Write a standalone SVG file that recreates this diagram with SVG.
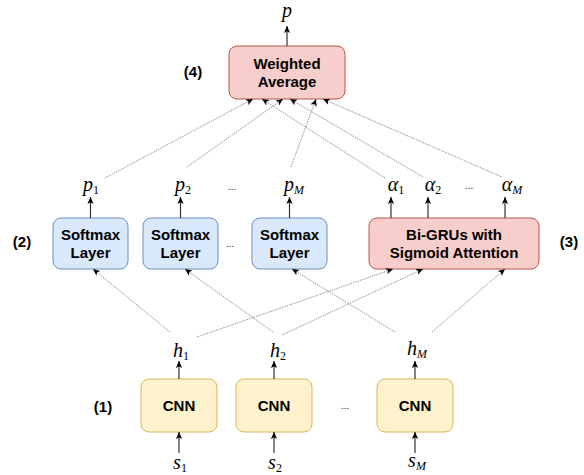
<svg xmlns="http://www.w3.org/2000/svg" width="584" height="475" viewBox="0 0 584 475">
<style>
.box text, .lbl { font-family: "Liberation Sans", Arial, sans-serif; font-weight: bold; font-size: 15px; fill: #000; text-anchor: middle; }
.red { fill: #f8cecc; stroke: #b85450; stroke-width: 1; }
.blue { fill: #dae8fc; stroke: #6c8ebf; stroke-width: 1; }
.yel { fill: #fff2cc; stroke: #d6b656; stroke-width: 1; }
.m { font-family: "Liberation Serif", "Times New Roman", serif; font-style: italic; font-size: 20px; fill: #000; text-anchor: middle; }
.sub { font-style: normal; font-size: 12px; }
.subi { font-style: italic; font-size: 12px; }
.dots { font-family: "Liberation Serif", serif; font-size: 11px; fill: #333; text-anchor: middle; }
.solid { stroke: #333; stroke-width: 1.2; fill: none; }
.dotted { stroke: #777; stroke-width: 0.8; stroke-dasharray: 1.5 1; fill: none; }
</style>
<defs>
<marker id="arr" viewBox="0 0 10 10" refX="10" refY="5" markerWidth="7" markerHeight="7" markerUnits="userSpaceOnUse" orient="auto">
<path d="M0,0.5 L10,5 L0,9.5 L2.5,5 z" fill="#000"/>
</marker>
</defs>

<g id="wavg" class="box">
<rect class="red" x="229" y="46" width="116" height="53" rx="8"/>
<text x="287" y="68.5">Weighted</text>
<text x="287" y="86.5">Average</text>
</g>
<g id="sm1" class="box">
<rect class="blue" x="53" y="218" width="75" height="51" rx="8"/>
<text x="90.5" y="240">Softmax</text>
<text x="90.5" y="258">Layer</text>
</g>
<g id="sm2" class="box">
<rect class="blue" x="143" y="218" width="75" height="51" rx="8"/>
<text x="180.5" y="240">Softmax</text>
<text x="180.5" y="258">Layer</text>
</g>
<g id="sm3" class="box">
<rect class="blue" x="252" y="218" width="75" height="51" rx="8"/>
<text x="289.5" y="240">Softmax</text>
<text x="289.5" y="258">Layer</text>
</g>
<g id="bigru" class="box">
<rect class="red" x="369" y="218" width="170" height="51" rx="8"/>
<text x="454" y="240">Bi-GRUs with</text>
<text x="454" y="258">Sigmoid Attention</text>
</g>
<g id="cnn1" class="box">
<rect class="yel" x="141" y="379" width="76" height="53" rx="8"/>
<text x="179" y="411">CNN</text>
</g>
<g id="cnn2" class="box">
<rect class="yel" x="236" y="379" width="76" height="53" rx="8"/>
<text x="274" y="411">CNN</text>
</g>
<g id="cnn3" class="box">
<rect class="yel" x="377" y="379" width="76" height="53" rx="8"/>
<text x="415" y="411">CNN</text>
</g>

<g id="labels">
<text class="lbl" x="193" y="77">(4)</text>
<text class="lbl" x="22" y="247">(2)</text>
<text class="lbl" x="569" y="247">(3)</text>
<text class="lbl" x="103" y="412">(1)</text>
<text class="m" x="287" y="17">p</text>
<text class="m" x="91" y="191">p<tspan class="sub" dy="3">1</tspan></text>
<text class="m" x="183" y="191">p<tspan class="sub" dy="3">2</tspan></text>
<text class="m" x="294" y="191">p<tspan class="subi" dy="3">M</tspan></text>
<text class="m" x="396" y="191">α<tspan class="sub" dy="3">1</tspan></text>
<text class="m" x="433" y="191">α<tspan class="sub" dy="3">2</tspan></text>
<text class="m" x="512" y="191">α<tspan class="subi" dy="3">M</tspan></text>
<text class="m" x="181" y="357">h<tspan class="sub" dy="3">1</tspan></text>
<text class="m" x="278" y="357">h<tspan class="sub" dy="3">2</tspan></text>
<text class="m" x="417" y="355">h<tspan class="subi" dy="3">M</tspan></text>
<text class="m" x="180" y="469">s<tspan class="sub" dy="3">1</tspan></text>
<text class="m" x="275" y="469">s<tspan class="sub" dy="3">2</tspan></text>
<text class="m" x="417" y="467">s<tspan class="subi" dy="3">M</tspan></text>
<text class="dots" x="232" y="190">...</text>
<text class="dots" x="230" y="247">...</text>
<text class="dots" x="469" y="189">...</text>
<text class="dots" x="345" y="409">...</text>
</g>

<g id="connectors">
<line class="solid" x1="287" y1="46" x2="287" y2="26" marker-end="url(#arr)"/>
<line class="solid" x1="90.5" y1="218" x2="90.5" y2="197" marker-end="url(#arr)"/>
<line class="solid" x1="180.5" y1="218" x2="180.5" y2="197" marker-end="url(#arr)"/>
<line class="solid" x1="289.5" y1="218" x2="289.5" y2="197" marker-end="url(#arr)"/>
<line class="solid" x1="391" y1="218" x2="391" y2="197" marker-end="url(#arr)"/>
<line class="solid" x1="428" y1="218" x2="428" y2="197" marker-end="url(#arr)"/>
<line class="solid" x1="505" y1="218" x2="505" y2="197" marker-end="url(#arr)"/>
<line class="solid" x1="179" y1="379" x2="179" y2="361" marker-end="url(#arr)"/>
<line class="solid" x1="274" y1="379" x2="274" y2="361" marker-end="url(#arr)"/>
<line class="solid" x1="415" y1="379" x2="415" y2="361" marker-end="url(#arr)"/>
<line class="solid" x1="179" y1="453" x2="179" y2="432" marker-end="url(#arr)"/>
<line class="solid" x1="274" y1="453" x2="274" y2="432" marker-end="url(#arr)"/>
<line class="solid" x1="415" y1="453" x2="415" y2="432" marker-end="url(#arr)"/>

<line class="dotted" x1="105" y1="178" x2="253" y2="99" marker-end="url(#arr)"/>
<line class="dotted" x1="187" y1="167" x2="283" y2="99" marker-end="url(#arr)"/>
<line class="dotted" x1="291" y1="167" x2="316" y2="99" marker-end="url(#arr)"/>
<line class="dotted" x1="385" y1="178" x2="262" y2="99" marker-end="url(#arr)"/>
<line class="dotted" x1="423" y1="177" x2="290" y2="99" marker-end="url(#arr)"/>
<line class="dotted" x1="502" y1="177" x2="323" y2="99" marker-end="url(#arr)"/>

<line class="dotted" x1="170" y1="332" x2="93" y2="269" marker-end="url(#arr)"/>
<line class="dotted" x1="197" y1="337" x2="393" y2="269" marker-end="url(#arr)"/>
<line class="dotted" x1="273" y1="332" x2="185" y2="269" marker-end="url(#arr)"/>
<line class="dotted" x1="282" y1="335" x2="423" y2="269" marker-end="url(#arr)"/>
<line class="dotted" x1="395" y1="332" x2="292" y2="269" marker-end="url(#arr)"/>
<line class="dotted" x1="432" y1="332" x2="505" y2="269" marker-end="url(#arr)"/>
</g>
</svg>
